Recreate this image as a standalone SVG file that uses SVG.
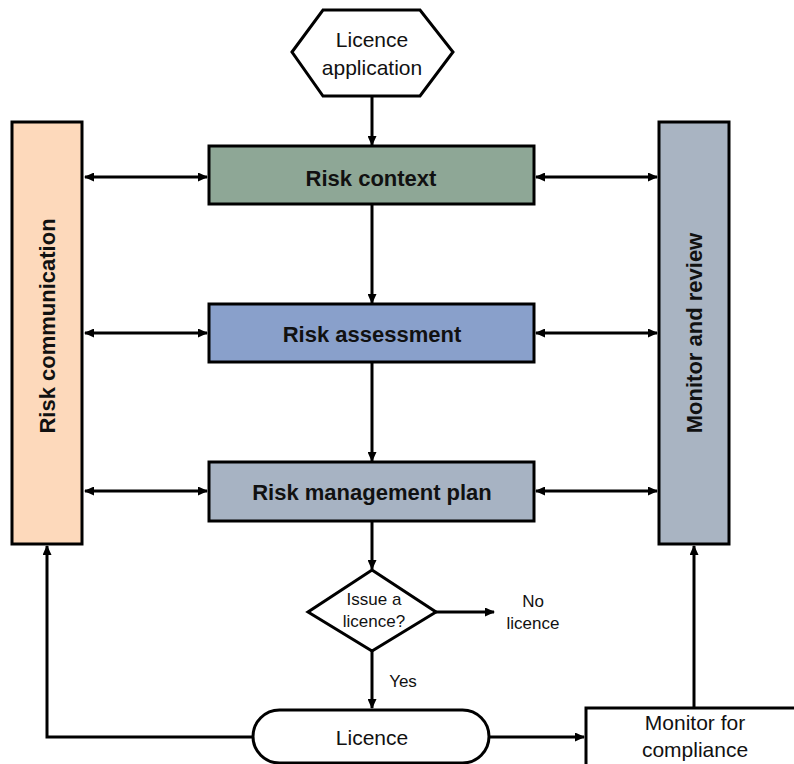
<svg xmlns="http://www.w3.org/2000/svg" width="794" height="764" viewBox="0 0 794 764">
  <style>
    .box { stroke: #000; stroke-width: 3; }
    .line { fill: none; stroke: #000; stroke-width: 3; }
    .bold { font-family: "Liberation Sans", Arial, sans-serif; font-weight: bold; font-size: 22px; fill: #111; text-anchor: middle; }
    .reg { font-family: "Liberation Sans", Arial, sans-serif; font-size: 21px; fill: #111; text-anchor: middle; }
    .small { font-family: "Liberation Sans", Arial, sans-serif; font-size: 17px; fill: #111; text-anchor: middle; }
  </style>
  <defs>
    <marker id="arrow" viewBox="0 0 10 9" refX="9" refY="4.5" markerWidth="10" markerHeight="9" markerUnits="userSpaceOnUse" orient="auto-start-reverse">
      <path d="M0,0 L10,4.5 L0,9 z" fill="#000"/>
    </marker>
  </defs>

  <rect width="794" height="764" fill="#fff"/>

  <!-- connectors -->
  <g id="connectors">
    <line class="line" x1="372" y1="96" x2="372" y2="145" marker-end="url(#arrow)"/>
    <line class="line" x1="372" y1="205" x2="372" y2="303" marker-end="url(#arrow)"/>
    <line class="line" x1="372" y1="362" x2="372" y2="461" marker-end="url(#arrow)"/>
    <line class="line" x1="372" y1="521" x2="372" y2="569" marker-end="url(#arrow)"/>
    <line class="line" x1="372" y1="651" x2="372" y2="708" marker-end="url(#arrow)"/>
    <line class="line" x1="436" y1="612" x2="494" y2="612" marker-end="url(#arrow)"/>

    <line class="line" x1="85" y1="177" x2="207" y2="177" marker-start="url(#arrow)" marker-end="url(#arrow)"/>
    <line class="line" x1="85" y1="333" x2="207" y2="333" marker-start="url(#arrow)" marker-end="url(#arrow)"/>
    <line class="line" x1="85" y1="491" x2="207" y2="491" marker-start="url(#arrow)" marker-end="url(#arrow)"/>
    <line class="line" x1="536" y1="177" x2="657" y2="177" marker-start="url(#arrow)" marker-end="url(#arrow)"/>
    <line class="line" x1="536" y1="333" x2="657" y2="333" marker-start="url(#arrow)" marker-end="url(#arrow)"/>
    <line class="line" x1="536" y1="491" x2="657" y2="491" marker-start="url(#arrow)" marker-end="url(#arrow)"/>

    <polyline class="line" points="253,737 47,737 47,546" marker-end="url(#arrow)"/>
    <line class="line" x1="489" y1="737" x2="584" y2="737" marker-end="url(#arrow)"/>
    <line class="line" x1="694" y1="708" x2="694" y2="546" marker-end="url(#arrow)"/>
  </g>

  <g id="licence-application">
    <polygon class="box" fill="#fff" points="292,52 323,10 420,10 453,52 420,96 323,96"/>
    <text class="reg" font-size="22" x="372" y="47">Licence</text>
    <text class="reg" font-size="22" x="372" y="75">application</text>
  </g>

  <g id="risk-context">
    <rect class="box" x="209" y="146" width="325" height="58" fill="#8ea796"/>
    <text class="bold" x="371" y="186">Risk context</text>
  </g>

  <g id="risk-assessment">
    <rect class="box" x="209" y="304" width="325" height="58" fill="#89a0cb"/>
    <text class="bold" x="372" y="342">Risk assessment</text>
  </g>

  <g id="risk-management-plan">
    <rect class="box" x="209" y="462" width="325" height="59" fill="#a7b3c3"/>
    <text class="bold" x="372" y="500">Risk management plan</text>
  </g>

  <g id="risk-communication">
    <rect class="box" x="12" y="122" width="70" height="422" fill="#fdd9bb"/>
    <text class="bold" font-size="23" transform="translate(55,326) rotate(-90)" x="0" y="0">Risk communication</text>
  </g>

  <g id="monitor-and-review">
    <rect class="box" x="659" y="122" width="70" height="422" fill="#a9b4c2"/>
    <text class="bold" font-size="23" transform="translate(702,333) rotate(-90)" x="0" y="0">Monitor and review</text>
  </g>

  <g id="issue-licence">
    <polygon class="box" fill="#fff" points="372,570 436,612 372,651 308,612"/>
    <text class="small" x="374" y="605">Issue a</text>
    <text class="small" x="374" y="627">licence?</text>
  </g>

  <g id="no-licence">
    <text class="small" x="533" y="607">No</text>
    <text class="small" x="533" y="629">licence</text>
  </g>

  <g id="yes-label">
    <text class="small" x="403" y="687">Yes</text>
  </g>

  <g id="licence">
    <rect class="box" x="253" y="710" width="236" height="53" rx="26.5" fill="#fff"/>
    <text class="reg" font-size="22" x="372" y="745">Licence</text>
  </g>

  <g id="monitor-for-compliance">
    <rect class="box" x="586" y="708" width="230" height="80" fill="#fff"/>
    <text class="reg" font-size="20" x="695" y="730">Monitor for</text>
    <text class="reg" font-size="20" x="695" y="757">compliance</text>
  </g>
</svg>
